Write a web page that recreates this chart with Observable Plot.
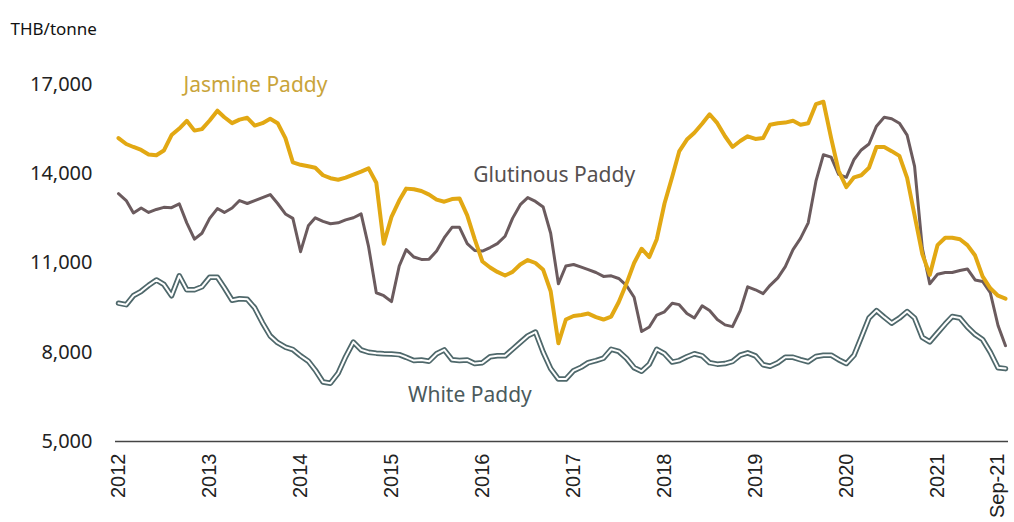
<!DOCTYPE html>
<html>
<head>
<meta charset="utf-8">
<script src="https://cdn.jsdelivr.net/npm/d3@7"></script>
<script src="https://cdn.jsdelivr.net/npm/@observablehq/plot@0.6"></script>
<style>
  html, body { margin: 0; padding: 0; background: #fff; }
</style>
</head>
<body>
<div id="chart"></div>
<script>
// Monthly prices, THB/tonne, Jan 2012 .. Sep 2021
const jasmine = [
  15200,15000,14900,14800,14650,14620,14780,15300,15520,15780,15450,15500,
  15790,16120,15900,15700,15820,15880,15620,15700,15850,15700,15200,14380,
  14300,14250,14200,13950,13850,13800,13870,13970,14070,14180,13700,11650,
  12550,13100,13500,13480,13420,13300,13130,13060,13150,13170,12600,11800,
  11050,10850,10700,10580,10700,10950,11100,11000,10770,10050,8300,9100,
  9220,9250,9300,9180,9100,9200,9680,10300,11000,11480,11200,11800,
  13000,13900,14750,15150,15380,15680,16000,15700,15260,14900,15100,15260,
  15170,15200,15650,15700,15720,15780,15650,15700,16340,16420,15200,14100,
  13550,13880,13950,14200,14900,14900,14760,14600,13860,12600,11300,10600,
  11600,11850,11850,11800,11600,11250,10550,10150,9900,9800
];
const glutinous = [
  13330,13100,12680,12850,12700,12800,12870,12860,12990,12350,11800,12000,
  12500,12830,12700,12850,13100,13000,13100,13200,13300,13000,12650,12500,
  11380,12250,12520,12400,12320,12350,12450,12520,12650,11550,10000,9900,
  9700,10900,11450,11200,11120,11130,11400,11850,12200,12200,11650,11420,
  11400,11520,11650,11900,12500,12960,13200,13070,12880,12000,10300,10900,
  10950,10860,10780,10680,10550,10570,10480,10250,9850,8700,8850,9250,
  9360,9650,9600,9300,9150,9560,9400,9100,8920,8860,9400,10200,
  10100,9970,10250,10500,10880,11450,11830,12350,13750,14640,14560,13980,
  13880,14480,14800,15000,15600,15900,15850,15700,15300,14250,11500,10300,
  10620,10680,10680,10750,10800,10430,10380,10000,8900,8220
];
const white = [
  9650,9600,9900,10050,10250,10430,10280,9900,10570,10100,10100,10200,
  10520,10520,10170,9750,9800,9780,9490,8990,8550,8320,8170,8090,
  7880,7700,7400,7000,6960,7300,7850,8340,8080,8000,7970,7950,
  7940,7920,7830,7720,7740,7700,7950,8080,7750,7720,7740,7620,
  7650,7850,7880,7880,8100,8330,8550,8680,8000,7450,7100,7100,
  7380,7500,7650,7720,7800,8100,8030,7800,7480,7360,7600,8100,
  7950,7670,7720,7850,7950,7880,7650,7600,7620,7690,7900,7980,
  7880,7580,7530,7650,7830,7830,7750,7680,7860,7900,7900,7750,
  7620,7900,8500,9150,9400,9180,8980,9150,9370,9150,8500,8350,
  8650,8950,9200,9150,8850,8600,8430,8000,7480,7450
];

const yTicks = [5000, 8000, 11000, 14000, 17000];
const xTickDates = ["2012-01-01","2013-01-01","2014-01-01","2015-01-01","2016-01-01",
                    "2017-01-01","2018-01-01","2019-01-01","2020-01-01","2021-01-01","2021-09-01"];
const xTickLabels = ["2012","2013","2014","2015","2016","2017","2018","2019","2020","2021","Sep-21"];

// Series labels (anchored in data space)
const labelNames  = ["Jasmine Paddy", "Glutinous Paddy", "White Paddy"];
const labelDates  = ["2012-09-18", "2015-11-25", "2015-03-08"];
const labelValues = [16965, 13940, 6546];
const unitLabel = "THB/tonne";

// ---- build tables ----
const dates = jasmine.map((_, i) => new Date(Date.UTC(2012, i, 1)));
const toRows = (vals) => vals.map((v, i) => ({date: dates[i], value: v}));
const jasRows = toRows(jasmine);
const gluRows = toRows(glutinous);
const whiRows = toRows(white);
const tickDates = xTickDates.map(s => new Date(s + "T00:00:00Z"));
const tickLabelMap = new Map(tickDates.map((d, i) => [+d, xTickLabels[i]]));
const labels = labelNames.map((n, i) => ({
  name: n, date: new Date(labelDates[i] + "T00:00:00Z"), value: labelValues[i]
}));
const labelColors = {"Jasmine Paddy": "#c9a43a", "Glutinous Paddy": "#555050", "White Paddy": "#4b5a5c"};

const chart = Plot.plot({
  width: 1014,
  height: 522,
  marginLeft: 118,
  marginRight: 9,
  marginTop: 84,
  marginBottom: 81,
  style: {fontFamily: "'Noto Sans', sans-serif", background: "#fff", color: "#222"},
  x: {type: "utc", domain: [dates[0], dates[dates.length - 1]]},
  y: {domain: [5000, 17000]},
  marks: [
    Plot.axisY({ticks: yTicks, tickSize: 0, tickPadding: 26, tickFormat: d3.format(","),
                fontSize: 20, label: null, fill: "#222"}),
    Plot.axisX({ticks: tickDates, tickFormat: d => tickLabelMap.get(+d), tickRotate: -90,
                tickSize: 0, tickPadding: 12, fontSize: 20,
                fontFamily: "'Liberation Sans', Arial, sans-serif", label: null, fill: "#222"}),
    Plot.ruleY([5000], {stroke: "#444", strokeWidth: 1.5, insetLeft: -3, insetRight: -3}),
    Plot.lineY(whiRows, {x: "date", y: "value", stroke: "#4f686b", strokeWidth: 5.5, strokeLinejoin: "round"}),
    Plot.lineY(whiRows, {x: "date", y: "value", stroke: "#ffffff", strokeWidth: 2, strokeLinejoin: "round"}),
    Plot.lineY(gluRows, {x: "date", y: "value", stroke: "#6b5b5e", strokeWidth: 3, strokeLinejoin: "round"}),
    Plot.lineY(jasRows, {x: "date", y: "value", stroke: "#e2a813", strokeWidth: 4, strokeLinejoin: "round"}),
    Plot.text(labels, {x: "date", y: "value", text: "name", textAnchor: "start",
                       fill: d => labelColors[d.name], fontSize: 21}),
    Plot.text([unitLabel], {frameAnchor: "top-left", dx: -108, dy: -62, textAnchor: "start",
                            fontSize: 17, fill: "#111"})
  ]
});
document.getElementById("chart").appendChild(chart);
</script>
</body>
</html>
